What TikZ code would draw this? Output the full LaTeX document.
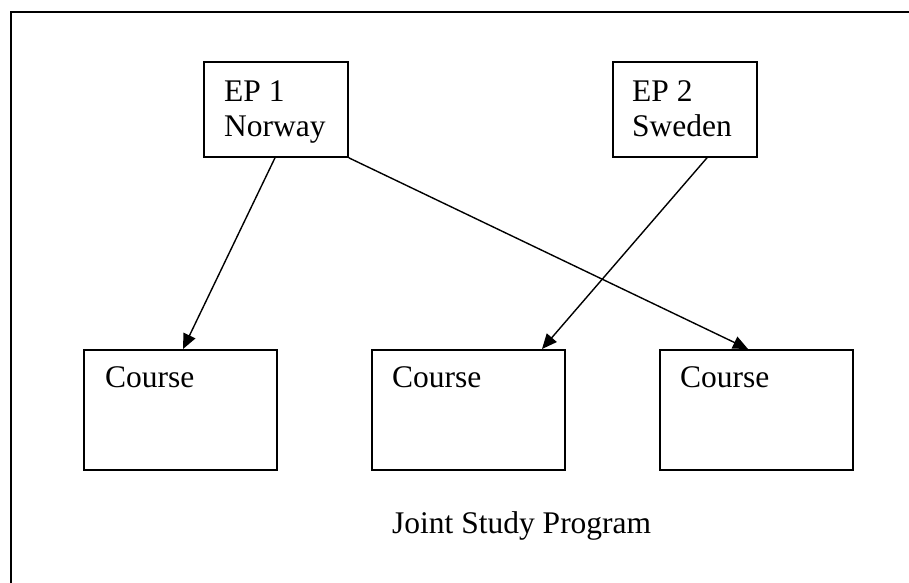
\documentclass[tikz,border=0pt]{standalone}
\usepackage{fontspec}
\setmainfont{Liberation Serif}
\usetikzlibrary{arrows.meta,calc}

\tikzset{
  frameline/.style={line width=1.8pt},
  epbox/.style={draw, line width=1.8pt, rectangle, anchor=north west,
    minimum width=144pt, minimum height=95pt, inner sep=0pt},
  coursebox/.style={draw, line width=1.8pt, rectangle, anchor=north west,
    minimum width=193pt, minimum height=120pt, inner sep=0pt},
  boxtext/.style={anchor=base west, inner sep=0pt,
    font=\fontsize{31.5pt}{36pt}\selectfont},
  link/.style={line width=1.4pt, -{Triangle[length=15pt,width=13pt]}}
}

\begin{document}
\begin{tikzpicture}[x=1pt,y=-1pt]
  \useasboundingbox (0,0) rectangle (909,582);
  \clip (0,0) rectangle (909,582);

  % outer frame of the program
  \draw[frameline] (11,12) rectangle (930,610);

  % exchange partners
  \node[epbox] (ep1) at (203,61) {};
  \node[epbox] (ep2) at (612,61) {};
  \node[boxtext] (ep1a) at (224,101) {EP 1};
  \node[boxtext] (ep1b) at (224,136) {Norway};
  \node[boxtext] (ep2a) at (632,101) {EP 2};
  \node[boxtext] (ep2b) at (632,136) {Sweden};

  % courses
  \node[coursebox] (c1) at (83,349) {};
  \node[coursebox] (c2) at (371,349) {};
  \node[coursebox] (c3) at (659,349) {};
  \node[boxtext] (c1t) at (105,387) {Course};
  \node[boxtext] (c2t) at (392,387) {Course};
  \node[boxtext] (c3t) at (680,387) {Course};

  % caption
  \node[boxtext] (title) at (392,533) {Joint Study Program};

  % links from partners to courses
  \draw[link] ($(ep1.south west)+(72,0)$) -- ($(c1.north west)+(100,0)$);
  \draw[link] ($(ep2.south west)+(95,0)$) -- ($(c2.north west)+(171,0)$);
  \draw[link] (ep1.south east) -- ($(c3.north west)+(89,0)$);
\end{tikzpicture}
\end{document}
